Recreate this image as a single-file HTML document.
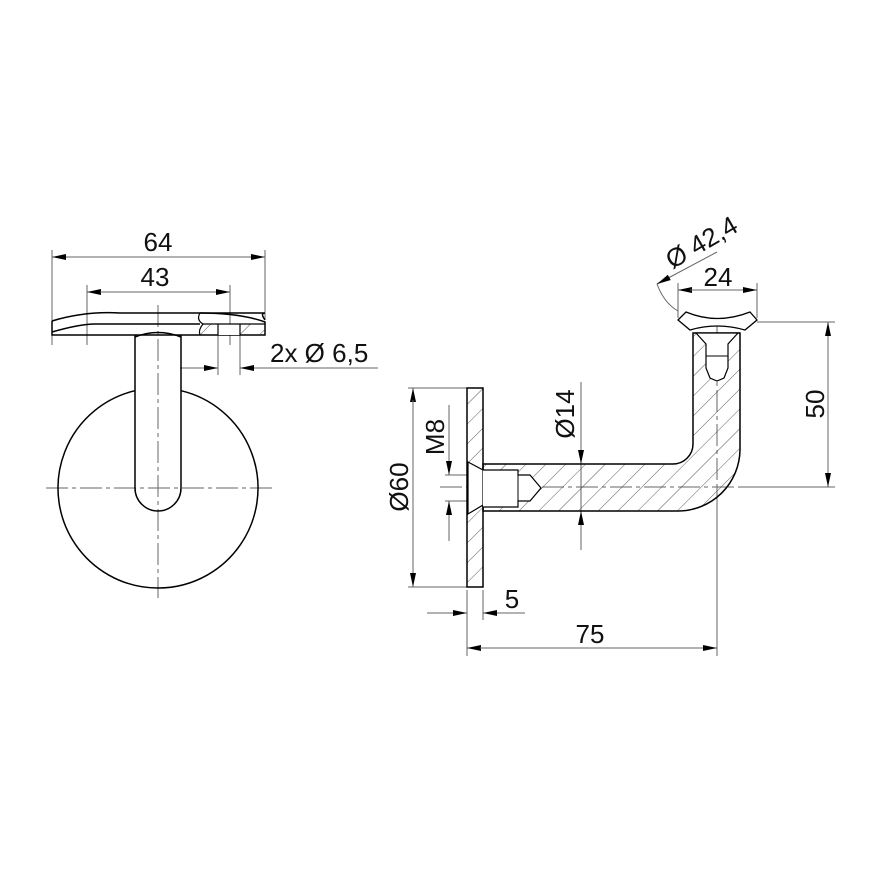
<!DOCTYPE html>
<html><head><meta charset="utf-8"><style>
html,body{margin:0;padding:0;background:#fff}
svg{display:block}
text{font-family:"Liberation Sans","DejaVu Sans",sans-serif;font-size:26px;fill:#111}
</style></head><body>
<svg width="870" height="870" viewBox="0 0 870 870" xmlns="http://www.w3.org/2000/svg">
<defs>
<pattern id="h" width="14" height="14" patternUnits="userSpaceOnUse" patternTransform="rotate(45)">
<line x1="0" y1="0" x2="0" y2="14" stroke="#333" stroke-width="0.8"/>
</pattern>
<marker id="a" viewBox="0 0 14 6" refX="14" refY="3" markerWidth="14" markerHeight="6" orient="auto" markerUnits="userSpaceOnUse">
<path d="M0,0 L14,3 L0,6 Z" fill="#000"/>
</marker>
</defs>
<g fill="none" stroke="#666" stroke-width="1">
<line x1="52" y1="250" x2="52" y2="345"/>
<line x1="265" y1="250" x2="265" y2="320"/>
<line x1="87" y1="285" x2="87" y2="345"/>
<line x1="230" y1="285" x2="230" y2="345"/>
<line x1="218" y1="330" x2="218" y2="375"/>
<line x1="240" y1="330" x2="240" y2="375"/>
<line x1="180" y1="368" x2="204" y2="368"/>
<line x1="254" y1="368" x2="378" y2="368"/>
<g stroke-dasharray="22,4,4,4">
<line x1="158" y1="305" x2="158" y2="598"/>
<line x1="46" y1="488" x2="272" y2="488"/>
<line x1="440" y1="487" x2="835" y2="487"/>
<line x1="717" y1="322" x2="717" y2="487"/>
</g>
<line x1="408" y1="388" x2="467" y2="388"/>
<line x1="408" y1="587" x2="467" y2="587"/>
<line x1="445" y1="475" x2="470" y2="475"/>
<line x1="445" y1="501" x2="470" y2="501"/>
<line x1="449" y1="405" x2="449" y2="461"/>
<line x1="449" y1="515" x2="449" y2="541"/>
<line x1="581" y1="382" x2="581" y2="550"/>
<line x1="467" y1="590" x2="467" y2="656"/>
<line x1="483" y1="590" x2="483" y2="620"/>
<line x1="717" y1="487" x2="717" y2="656"/>
<line x1="427" y1="613" x2="453" y2="613"/>
<line x1="497" y1="613" x2="525" y2="613"/>
<line x1="757" y1="322" x2="835" y2="322"/>
<line x1="740" y1="487" x2="835" y2="487"/>
<line x1="678" y1="283" x2="678" y2="318"/>
<line x1="757" y1="283" x2="757" y2="318"/>
<path d="M657,284 Q664,303 678,311"/>
<line x1="657" y1="284" x2="717" y2="252"/>
</g>
<g stroke="#666" stroke-width="1" fill="none">
<line x1="66" y1="257" x2="52" y2="257" marker-end="url(#a)"/>
<line x1="66" y1="257" x2="265" y2="257" marker-end="url(#a)"/>
<line x1="100" y1="292" x2="87" y2="292" marker-end="url(#a)"/>
<line x1="100" y1="292" x2="230" y2="292" marker-end="url(#a)"/>
<line x1="198" y1="368" x2="218" y2="368" marker-end="url(#a)"/>
<line x1="262" y1="368" x2="240" y2="368" marker-end="url(#a)"/>
<line x1="413" y1="400" x2="413" y2="388" marker-end="url(#a)"/>
<line x1="413" y1="400" x2="413" y2="587" marker-end="url(#a)"/>
<line x1="449" y1="455" x2="449" y2="475" marker-end="url(#a)"/>
<line x1="449" y1="521" x2="449" y2="501" marker-end="url(#a)"/>
<line x1="581" y1="444" x2="581" y2="464" marker-end="url(#a)"/>
<line x1="581" y1="531" x2="581" y2="511" marker-end="url(#a)"/>
<line x1="447" y1="613" x2="467" y2="613" marker-end="url(#a)"/>
<line x1="503" y1="613" x2="483" y2="613" marker-end="url(#a)"/>
<line x1="480" y1="648" x2="467" y2="648" marker-end="url(#a)"/>
<line x1="480" y1="648" x2="717" y2="648" marker-end="url(#a)"/>
<line x1="690" y1="290" x2="678" y2="290" marker-end="url(#a)"/>
<line x1="690" y1="290" x2="757" y2="290" marker-end="url(#a)"/>
<line x1="828" y1="340" x2="828" y2="322" marker-end="url(#a)"/>
<line x1="828" y1="340" x2="828" y2="487" marker-end="url(#a)"/>
<line x1="670" y1="277" x2="657" y2="284" marker-end="url(#a)"/>
</g>

<g stroke="#000" stroke-width="1.5" fill="none">
<path d="M52,321 Q85,311 120,313 L265,313 Q260,313 265,320"/>
<path d="M52,321 L52,335 L265,335 L265,322 Q240,313 200,313"/>
<path d="M52,332 Q80,324 95,324 L200,324"/>
<path d="M135,335 L135,488 A23,23 0 0 0 181,488 L181,335"/>
<path d="M135,337 Q158,328 181,337"/>
<path d="M135,390.7 A100,100 0 1 0 181,390.7"/>
</g>
<rect x="200" y="324" width="65" height="11" fill="url(#h)"/>
<rect x="218" y="324" width="22" height="11" fill="#fff"/>
<g stroke="#000" stroke-width="1.2" fill="none">
<path d="M200,313 Q196,320 203,324 Q198,330 200,335"/>
<line x1="218" y1="324" x2="218" y2="335"/>
<line x1="240" y1="324" x2="240" y2="335"/>
<line x1="203" y1="324" x2="265" y2="324"/>
</g>

<path d="M483,464 L673,464 A20,20 0 0 0 693,444 L693,333 L740,333 L740,450 A62,62 0 0 1 678,511 L483,511 Z" fill="url(#h)" stroke="#000" stroke-width="1.5"/>
<rect x="467" y="388" width="16" height="199" fill="url(#h)" stroke="#000" stroke-width="1.5"/>
<path d="M468,462 L483,470 L483,505 L468,514 Z" fill="#fff" stroke="#000" stroke-width="1.2"/>
<path d="M483,470 L518,470 L518,475 L530,475 L541,488 L530,501 L518,501 L518,507 L483,507" fill="#fff" stroke="#000" stroke-width="1.2"/>
<line x1="518" y1="475" x2="518" y2="501" stroke="#000" stroke-width="1"/>
<path d="M678,320 L686,312 Q717,325 750,312 L757,320 L745,330 Q717,322 690,330 Z" fill="#fff" stroke="#000" stroke-width="1.3"/>
<path d="M696,333 L706,344 L706,368 L710,378 L717,381 L724,378 L728,368 L728,344 L738,333 Z" fill="#fff" stroke="#000" stroke-width="1.2"/>
<line x1="706" y1="356" x2="728" y2="356" stroke="#000"/>
<line x1="693" y1="333" x2="740" y2="333" stroke="#000" stroke-width="1"/>

<text x="158" y="251" text-anchor="middle">64</text>
<text x="155" y="286" text-anchor="middle">43</text>
<text x="270" y="362">2x Ø 6,5</text>
<text x="718" y="286" text-anchor="middle">24</text>
<text x="512" y="608" text-anchor="middle">5</text>
<text x="590" y="643" text-anchor="middle">75</text>
<text transform="translate(824,404) rotate(-90)" text-anchor="middle">50</text>
<text transform="translate(408,487) rotate(-90)" text-anchor="middle">Ø60</text>
<text transform="translate(444,437) rotate(-90)" text-anchor="middle">M8</text>
<text transform="translate(574,414) rotate(-90)" text-anchor="middle">Ø14</text>
<text transform="translate(706,250) rotate(-30)" text-anchor="middle">Ø 42,4</text>
</svg>
</body></html>
